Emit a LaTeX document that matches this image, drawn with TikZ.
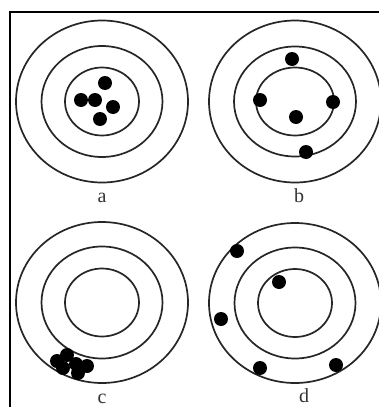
\documentclass[tikz,border=0pt]{standalone}
\usepackage{fontspec}
\setmainfont{Liberation Serif}
\usetikzlibrary{shapes.geometric}
\begin{document}
\begin{tikzpicture}[x=1pt,y=-1pt,
  ring/.style={draw=black!85,line width=1.7pt},
  dot/.style={circle,fill=black,inner sep=0pt,minimum size=14pt},
  lbl/.style={font=\fontsize{20}{24}\selectfont,inner sep=0pt,text=black!80},
  frame/.style={draw=black,line width=1.8pt}]
\useasboundingbox[fill=white] (0,0) rectangle (379,407);
\draw[frame] (10,407) -- (10,12) -- (379,12);
% panel a
\foreach \rx/\ry in {86/81,60.5/55.5,37/34}
  \draw[ring] (102,101.5) ellipse [x radius=\rx, y radius=\ry];
\node[dot] (a1) at (105,83) {};
\node[dot] (a2) at (81,100) {};
\node[dot] (a3) at (95,100) {};
\node[dot] (a4) at (113,107) {};
\node[dot] (a5) at (100,119) {};
\node[lbl] (la) at (102,198) {a};
% panel b
\foreach \rx/\ry in {86/81,61/55,39/34}
  \draw[ring] (295,101.5) ellipse [x radius=\rx, y radius=\ry];
\node[dot] (b1) at (292,59) {};
\node[dot] (b2) at (260,100) {};
\node[dot] (b3) at (333,102) {};
\node[dot] (b4) at (296,117) {};
\node[dot] (b5) at (306,152) {};
\node[lbl] (lb) at (299,196) {b};
% panel c
\foreach \rx/\ry in {86/80.5,60.5/56,37/34}
  \draw[ring] (102,302.5) ellipse [x radius=\rx, y radius=\ry];
\node[dot] (c1) at (57,361) {};
\node[dot] (c2) at (67,355) {};
\node[dot] (c3) at (63,368) {};
\node[dot] (c4) at (76,364) {};
\node[dot] (c5) at (78,373) {};
\node[dot] (c6) at (87,366) {};
\node[lbl] (lc) at (102,399) {c};
% panel d
\foreach \rx/\ry in {86/80,60.5/55.5,37/34}
  \draw[ring] (295,303) ellipse [x radius=\rx, y radius=\ry];
\node[dot] (d1) at (237,251) {};
\node[dot] (d2) at (279,282) {};
\node[dot] (d3) at (221,319) {};
\node[dot] (d4) at (260,368) {};
\node[dot] (d5) at (336,365) {};
\node[lbl] (ld) at (304,396) {d};
\end{tikzpicture}
\end{document}
